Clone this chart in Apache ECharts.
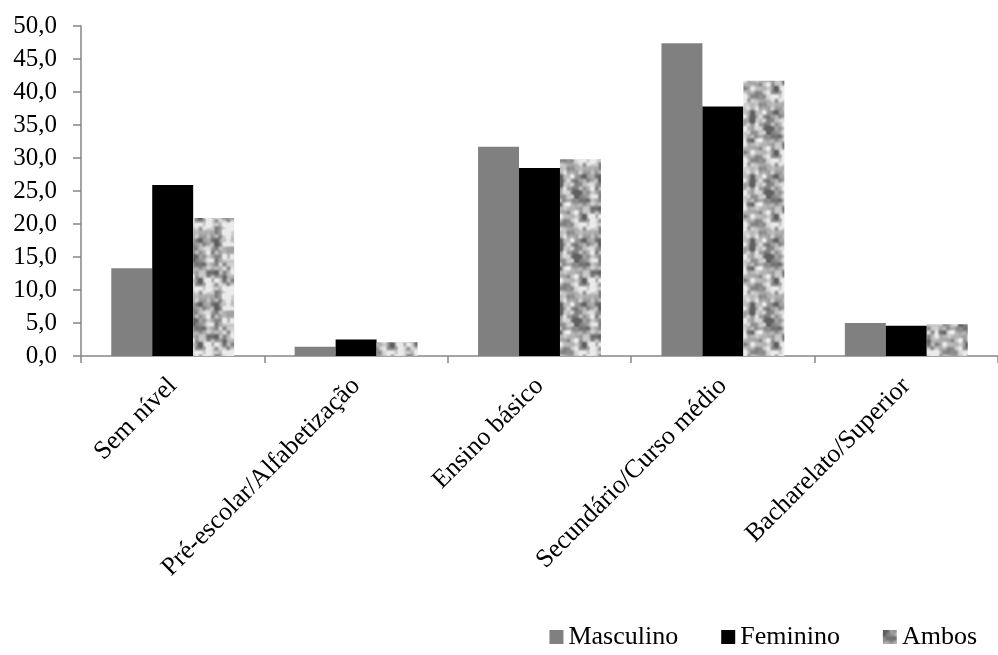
<!DOCTYPE html>
<html>
<head>
<meta charset="utf-8">
<script src="https://cdn.jsdelivr.net/npm/echarts@6/dist/echarts.min.js"></script>
<style>
html,body{margin:0;padding:0;background:#fff;}
#chart{width:998px;height:655px;}
</style>
</head>
<body>
<div id="chart"></div>
<script>
var categories = ['Sem nível', 'Pré-escolar/Alfabetização', 'Ensino básico', 'Secundário/Curso médio', 'Bacharelato/Superior'];
var masculino = [13.3, 1.4, 31.7, 47.4, 5.0];
var feminino = [25.9, 2.5, 28.5, 37.8, 4.6];
var ambos = [20.9, 2.1, 29.8, 41.7, 4.8];
var yTicks = [0, 5, 10, 15, 20, 25, 30, 35, 40, 45, 50];

// deterministic tileable noise texture for "Ambos"
function makeTexture() {
  var S = 64;
  var c = document.createElement('canvas');
  c.width = S; c.height = S;
  var ctx = c.getContext('2d');
  var img = ctx.createImageData(S, S);
  function hash(i, j, s) {
    var h = Math.imul(i, 374761393) ^ Math.imul(j, 668265263) ^ Math.imul(s, 1442695041);
    h = Math.imul(h ^ (h >>> 13), 1274126177);
    h = h ^ (h >>> 16);
    return (h >>> 0) / 4294967295;
  }
  function smooth(t) { return t * t * (3 - 2 * t); }
  function noise(x, y, cell, seed) {
    var n = S / cell;
    var gx = x / cell, gy = y / cell;
    var x0 = Math.floor(gx), y0 = Math.floor(gy);
    var fx = smooth(gx - x0), fy = smooth(gy - y0);
    var a = hash(x0 % n, y0 % n, seed), b = hash((x0 + 1) % n, y0 % n, seed);
    var c2 = hash(x0 % n, (y0 + 1) % n, seed), d = hash((x0 + 1) % n, (y0 + 1) % n, seed);
    return (a * (1 - fx) + b * fx) * (1 - fy) + (c2 * (1 - fx) + d * fx) * fy;
  }
  for (var y = 0; y < S; y++) {
    for (var x = 0; x < S; x++) {
      var v = 0.55 * noise(x, y, 8, 1) + 0.45 * noise(x, y, 4, 2);
      v = (v - 0.5) * 1.7 + 0.55;
      if (v < 0) v = 0; if (v > 1) v = 1;
      var g = Math.round(95 + v * 140);
      var k = (y * S + x) * 4;
      img.data[k] = g; img.data[k + 1] = g; img.data[k + 2] = g; img.data[k + 3] = 255;
    }
  }
  ctx.putImageData(img, 0, 0);
  return c;
}
var texture = makeTexture();

var font = 'Liberation Serif';
var chart = echarts.init(document.getElementById('chart'));
chart.setOption({
  animation: false,
  backgroundColor: '#fff',
  grid: { left: 81, top: 26, right: -7, bottom: 299, containLabel: false },
  legend: {
    right: 21, top: 624, padding: 0,
    itemWidth: 14, itemHeight: 14, itemGap: 43,
    icon: 'rect',
    textStyle: { fontFamily: font, fontSize: 26, color: '#000' },
    data: ['Masculino', 'Feminino', 'Ambos']
  },
  xAxis: {
    type: 'category',
    data: categories,
    axisLine: { lineStyle: { color: '#868686', width: 1.5 } },
    axisTick: { show: true, length: 7, lineStyle: { color: '#868686', width: 1.5 } },
    axisLabel: { interval: 0, rotate: 45, margin: 26, fontFamily: font, fontSize: 26, color: '#000' }
  },
  yAxis: {
    type: 'value',
    min: 0, max: 50, interval: 5,
    axisLine: { show: true, lineStyle: { color: '#868686', width: 1.5 } },
    axisTick: { show: true, length: 8, lineStyle: { color: '#868686', width: 1.5 } },
    splitLine: { show: false },
    axisLabel: {
      margin: 24, fontFamily: font, fontSize: 25, color: '#000',
      formatter: function (v) { return yTicks.indexOf(v) >= 0 ? v.toFixed(1).replace('.', ',') : ''; }
    }
  },
  series: [
    { name: 'Masculino', type: 'bar', data: masculino, barGap: '0%', barCategoryGap: '33%', itemStyle: { color: '#808080' } },
    { name: 'Feminino', type: 'bar', data: feminino, barGap: '0%', barCategoryGap: '33%', itemStyle: { color: '#000000' } },
    { name: 'Ambos', type: 'bar', data: ambos, barGap: '0%', barCategoryGap: '33%', itemStyle: { color: { image: texture, repeat: 'repeat' } } }
  ]
});
</script>
</body>
</html>
